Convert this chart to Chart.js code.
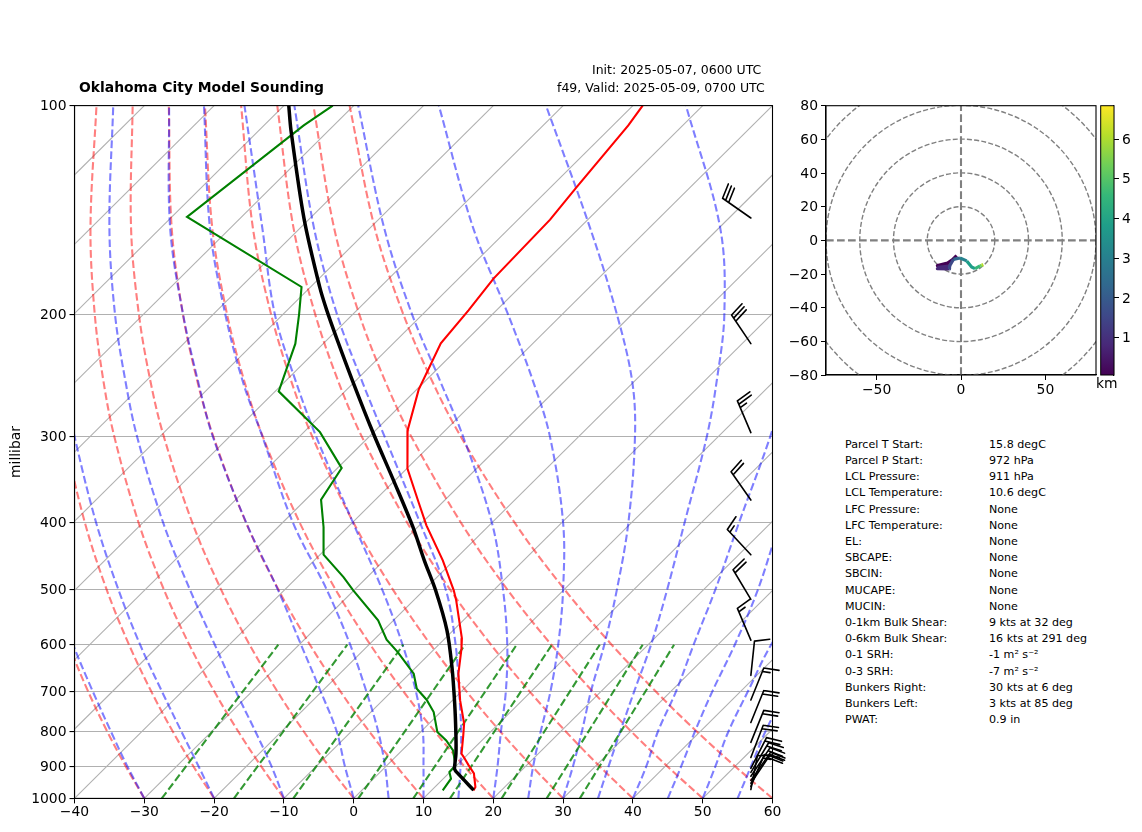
<!DOCTYPE html>
<html>
<head>
<meta charset="utf-8">
<script src="https://cdn.jsdelivr.net/npm/chart.js@4"></script>
<style>
  html, body { margin: 0; padding: 0; background: #fff; }
  body { position: relative; width: 1142px; height: 832px; overflow: hidden; font-family: "DejaVu Sans", sans-serif; color: #000; }
  canvas { position: absolute; }
  .txt { position: absolute; white-space: pre; line-height: 1; }
</style>
</head>
<body>
<canvas id="skewT" width="800" height="832" style="left:0;top:1px"></canvas>
<canvas id="hodo" width="320" height="310" style="left:780px;top:90px"></canvas>
<canvas id="cbar" width="42" height="310" style="left:1100px;top:90px"></canvas>
<div class="txt" style="left:79px;top:81px;font-size:13.9px;font-weight:bold">Oklahoma City Model Sounding</div>
<div class="txt" style="left:592px;top:64px;font-size:12.5px">Init: 2025-05-07, 0600 UTC</div>
<div class="txt" style="left:557px;top:82px;font-size:12.5px">f49, Valid: 2025-05-09, 0700 UTC</div>
<div class="txt" style="left:1096px;top:377px;font-size:13.9px">km</div>
<div id="stats"></div>
<script>
Chart.defaults.font.family = '"DejaVu Sans", sans-serif';
Chart.defaults.font.size = 13.9;
Chart.defaults.color = "#000";

// sounding profiles, temperature in degC at pressure in hPa
const tempP = [100, 106.8, 131.1, 146.1, 177.7, 197.5, 220.4, 257, 294.3, 334.2, 373.4, 403.5, 453.3, 500.8, 517.8, 587.5, 607.5, 660.7, 722, 779.5, 811, 862, 871.6, 896, 920, 963, 973.8];
const tempC = [-58.6, -57.8, -56.3, -55.4, -55, -54, -53.2, -49.7, -45.4, -39.9, -33.5, -29, -21.6, -15.7, -13.9, -7.6, -6.2, -3, 1.1, 5, 6.6, 9, 9.8, 11.7, 13.6, 15.8, 16];
const dewP = [100, 106.8, 144.8, 182.7, 200.1, 220.6, 258.5, 296, 333.6, 370.5, 405.7, 444.8, 479.3, 500.8, 553.4, 590, 615, 660.7, 694.4, 720.4, 750.6, 802, 825, 852.5, 896, 916, 936.7, 973.8];
const dewC = [-103, -104.3, -107.8, -81.3, -77.7, -74, -69.5, -57.7, -49.4, -47.8, -43.5, -39.5, -33.4, -30.1, -22.2, -18.2, -14.8, -9.4, -6.8, -3.8, -1, 2.4, 4.9, 7.3, 9.8, 9.9, 11.1, 11.6];
const parcelP = [100, 108.6, 145.6, 182.7, 197.5, 216.9, 250.6, 297.6, 347.5, 405.7, 453.3, 500.8, 572, 646, 730, 806.5, 862, 905, 911, 918, 973];
const parcelC = [-109.3, -105.4, -90.8, -78.7, -74.3, -68.8, -60.2, -49.8, -40.2, -30.7, -24.25, -18.3, -10.9, -4.9, 0.8, 5.3, 8.2, 10.1, 10.5, 11.1, 16];

// background lines, read as positions on the bottom axis
const pressureTicks = [100, 200, 300, 400, 500, 600, 700, 800, 900, 1000];
const isotherms = [-140, -130, -120, -110, -100, -90, -80, -70, -60, -50, -40, -30, -20, -10, 0, 10, 20, 30, 40, 50];
const curveLevels = [1000, 900, 800, 700, 600, 500, 400, 300, 250, 200, 150, 100];
const dryAdiabats = [
  [-30, -32.63, -35.33, -38.07, -40.83, -43.58, -46.2],
  [-20, -22.93, -25.94, -29.03, -32.19, -35.38, -38.51, -41.4, -42.58, -43.41, -43.53, -42.03],
  [-10, -13.22, -16.56, -20, -23.55, -27.18, -30.82, -34.31, -35.85, -37.1, -37.71, -36.85],
  [0, -3.52, -7.18, -10.97, -14.91, -18.98, -23.12, -27.22, -29.12, -30.78, -31.9, -31.67],
  [10, 6.18, 2.2, -1.94, -6.27, -10.77, -15.42, -20.13, -22.4, -24.47, -26.08, -26.49],
  [20, 15.89, 11.59, 7.09, 2.38, -2.57, -7.73, -13.05, -15.67, -18.15, -20.27, -21.31],
  [30, 25.59, 20.97, 16.12, 11.02, 5.64, -0.03, -5.96, -8.94, -11.84, -14.45, -16.13],
  [40, 35.29, 30.35, 25.16, 19.67, 13.84, 7.67, 1.13, -2.21, -5.52, -8.63, -10.95],
  [50, 45, 39.73, 34.18, 28.31, 22.04, 15.37, 8.22, 4.52, 0.79, -2.82, -5.77],
  [60, 54.7, 49.11, 43.22, 36.95, 30.25, 23.06, 15.31, 11.25, 7.1, 3, -0.59],
];
const moistAdiabats = [
  [-30, -32.4, -34.8, -37.4, -40.2, -43],
  [-20, -22.2, -24.7, -27.5, -30.6, -33.7, -36.9, -40, -41.5],
  [-10, -11.75, -14.1, -16.9, -19.9, -23.45, -27.3, -31.05, -32.7, -34.2, -35, -34.45],
  [0, -1.25, -2.45, -4.75, -7.55, -10.85, -15.4, -20.2, -22.3, -24.45, -26.3, -26.45],
  [5, 4.5, 3.5, 1.8, -0.5, -3.85, -8.7, -13.1, -15.9, -18.4, -20.6, -21.45],
  [10, 10, 9.9, 8.9, 7, 4.1, -0.1, -5.4, -8.3, -11.3, -13.1, -15.65],
  [15, 15.3, 15.4, 15.1, 14.6, 13.2, 9.5, 4.4, 1.2, -2.4, -5.7, -8.5],
  [20, 20.6, 21.1, 21.8, 22, 21.4, 19.8, 15.65, 12.4, 8.35, 4.35, 0.65],
  [25, 25.7, 26.8, 28.2, 29.3, 30, 30, 28.1, 25.7, 22.1, 17.1, 12.2],
  [30, 31.4, 32.7, 34, 35.9, 37.7, 39.35, 40.3, 39.9, 37.7, 33.85, 27.55],
  [35, 36.5, 38.2, 40.2, 42.6, 44.9, 47.4, 50.6, 52, 53.1, 52.5, 47.6],
  [40, 41.9, 43.6, 46.2, 48.7, 51.8, 55.2, 59.7, 62],
  [45, 46.9, 48.9, 51.4, 54.6, 57.9, 61.1, 66],
  [50, 51.8, 53.7, 56.5, 59.8, 65],
  [55, 56.9, 59, 62],
];
const mixingAt1000 = [-27.5, -17.15, -8.65, 0.66, 8.54, 13.8, 21.2, 27.65, 32.4];
const mixingAt600 = [-10.8, -0.92, 7.1, 15.95, 23.35, 28.4, 35.25, 41.4, 45.9];

// wind barbs
const barbP = [145.3, 220.6, 296.5, 371, 445, 516, 591, 664.5, 721, 777, 830, 873, 905, 917, 929, 942, 951, 961, 971];
const barbDir = [305, 326, 337, 325, 317, 329, 337, 6, 22, 22, 22, 21, 27, 31, 34, 35, 34, 23, 11];
const barbKt = [30, 30, 25, 20, 15, 20, 15, 10, 15, 20, 20, 20, 20, 20, 20, 20, 20, 15, 10];

// hodograph
const hodoU = [-2.6, -5, -8, -14, -8, -14, -8, -14, -7, -6.8, -6.5, -4.5, -0.6, 3.4, 6.3, 8.3, 11.3, 12.3, 13.2];
const hodoV = [-9, -11.5, -13.5, -15, -14.5, -16, -15.5, -16.8, -17, -15.8, -14.8, -11.3, -10.5, -12.2, -15.8, -16.8, -15.2, -14.8, -14.4];
const hodoKm = [0.1, 0.15, 0.2, 0.3, 0.4, 0.5, 0.6, 0.7, 1.3, 1.5, 1.8, 2.4, 3, 3.5, 4, 4.6, 5.2, 6, 6.8];
const hodoRings = [20, 40, 60, 80, 100];
const hodoYTicks = [-80, -60, -40, -20, 0, 20, 40, 60, 80];
const hodoXTicks = [-50, 0, 50];
const kmRange = [0.06, 6.84];
const kmTicks = [1, 2, 3, 4, 5, 6];
const viridis = ["#440154", "#482878", "#3e4989", "#31688e", "#26828e", "#1f9e89", "#35b779", "#6ece58", "#b5de2b", "#fde725"];

// parcel table
const statLabels = ["Parcel T Start:", "Parcel P Start:", "LCL Pressure:", "LCL Temperature:", "LFC Pressure:", "LFC Temperature:", "EL:", "SBCAPE:", "SBCIN:", "MUCAPE:", "MUCIN:", "0-1km Bulk Shear:", "0-6km Bulk Shear:", "0-1 SRH:", "0-3 SRH:", "Bunkers Right:", "Bunkers Left:", "PWAT:"];
const statValues = ["15.8 degC", "972 hPa", "911 hPa", "10.6 degC", "None", "None", "None", "None", "None", "None", "None", "9 kts at 32 deg", "16 kts at 291 deg", "-1 m² s⁻²", "-7 m² s⁻²", "30 kts at 6 deg", "3 kts at 85 deg", "0.9 in"];

const SKEW = 100;
const skewX = (t, p) => t + SKEW * Math.log10(1000 / p);
const minus = (v) => String(v).replace("-", "\u2212");
const profile = (ps, ts) => ps.map((p, i) => ({ x: skewX(ts[i], p), y: p }));
const curve = (xs) => xs.map((x, i) => ({ x: x, y: curveLevels[i] }));

function lineSet(data, color, width, extra) {
  return Object.assign({ data: data, borderColor: color, borderWidth: width, showLine: true, pointRadius: 0, tension: 0 }, extra);
}

const dash = [7.7, 3.3];
const datasets = [
  lineSet(profile(parcelP, parcelC), "#000", 3.5, { tension: 0.3 }),
  lineSet(profile(tempP, tempC), "#ff0000", 2.1),
  lineSet(profile(dewP, dewC), "#008000", 2.1),
];
mixingAt1000.forEach((x, i) => {
  datasets.push(lineSet([{ x: x, y: 1000 }, { x: mixingAt600[i], y: 600 }], "rgba(0,128,0,0.8)", 2.1, { borderDash: dash }));
});
moistAdiabats.forEach((xs) => {
  datasets.push(lineSet(curve(xs), "rgba(0,0,255,0.5)", 2.1, { borderDash: dash, tension: 0.35 }));
});
dryAdiabats.forEach((xs) => {
  datasets.push(lineSet(curve(xs), "rgba(255,0,0,0.5)", 2.1, { borderDash: dash, tension: 0.35 }));
});
isotherms.forEach((t) => {
  datasets.push(lineSet([{ x: t, y: 1000 }, { x: t + SKEW, y: 100 }], "#b0b0b0", 1.1));
});

function drawBarb(ctx, x, y, dir, speed) {
  const a = (dir * Math.PI) / 180;
  const dx = Math.sin(a), dy = -Math.cos(a);
  const px = Math.cos(a), py = Math.sin(a);
  const len = 34.5, h = 15, kick = 3.5, gap = 3.7;
  ctx.beginPath();
  ctx.moveTo(x, y);
  ctx.lineTo(x + dx * len, y + dy * len);
  let left = Math.round(speed / 5) * 5;
  let s = len;
  while (left > 0) {
    const k = left >= 10 ? 1 : 0.5;
    const bx = x + dx * s, by = y + dy * s;
    ctx.moveTo(bx, by);
    ctx.lineTo(bx + (px * h + dx * kick) * k, by + (py * h + dy * kick) * k);
    left -= k === 1 ? 10 : 5;
    s -= gap;
  }
  ctx.stroke();
}

const skewExtras = {
  id: "skewExtras",
  afterDatasetsDraw(chart) {
    const { ctx, chartArea, scales } = chart;
    ctx.save();
    ctx.strokeStyle = "#000";
    ctx.lineWidth = 1.6;
    ctx.lineCap = "round";
    const bx = chartArea.left + 0.969 * (chartArea.right - chartArea.left);
    barbP.forEach((p, i) => drawBarb(ctx, bx, scales.y.getPixelForValue(p), barbDir[i], barbKt[i]));
    ctx.lineWidth = 1.1;
    ctx.strokeRect(chartArea.left, chartArea.top, chartArea.right - chartArea.left, chartArea.bottom - chartArea.top);
    ctx.restore();
  },
};

new Chart(document.getElementById("skewT"), {
  type: "scatter",
  data: { datasets: datasets },
  options: {
    responsive: false,
    animation: false,
    devicePixelRatio: 1,
    layout: { padding: { left: 0, top: 104.6, right: 27.5, bottom: 0 } },
    plugins: { legend: { display: false }, tooltip: { enabled: false } },
    scales: {
      x: {
        type: "linear",
        min: -40,
        max: 60,
        afterFit(scale) { scale.height = 34.6; },
        grid: { drawOnChartArea: false, tickColor: "#000", tickLength: 5 },
        border: { color: "#000", width: 1.1 },
        ticks: { stepSize: 10, maxRotation: 0, padding: 1, callback: (v) => minus(v) },
      },
      y: {
        type: "logarithmic",
        min: 100,
        max: 1000,
        reverse: true,
        afterFit(scale) { scale.width = 74.5; },
        afterBuildTicks(scale) { scale.ticks = pressureTicks.map((v) => ({ value: v })); },
        grid: { color: "#b0b0b0", lineWidth: 1.1, tickColor: "#000", tickLength: 5 },
        border: { color: "#000", width: 1.1 },
        title: { display: true, text: "millibar", font: { size: 13.9 }, padding: { top: 8, bottom: 0 } },
        ticks: { autoSkip: false, padding: 3, labelOffset: 1, callback: (v) => String(v) },
      },
    },
  },
  plugins: [skewExtras],
});

function viridisAt(km) {
  const f = Math.max(0, Math.min(1, (km - kmRange[0]) / (kmRange[1] - kmRange[0]))) * (viridis.length - 1);
  return viridis[Math.round(f)];
}

const hodoRingPlugin = {
  id: "hodoRings",
  beforeDatasetsDraw(chart) {
    const { ctx, chartArea, scales } = chart;
    const cx = scales.x.getPixelForValue(0), cy = scales.y.getPixelForValue(0);
    ctx.save();
    ctx.beginPath();
    ctx.rect(chartArea.left, chartArea.top, chartArea.right - chartArea.left, chartArea.bottom - chartArea.top);
    ctx.clip();
    ctx.strokeStyle = "#808080";
    ctx.lineWidth = 1.4;
    ctx.setLineDash([5, 2.2]);
    hodoRings.forEach((r) => {
      ctx.beginPath();
      ctx.arc(cx, cy, scales.x.getPixelForValue(r) - cx, 0, Math.PI * 2);
      ctx.stroke();
    });
    ctx.restore();
  },
  afterDatasetsDraw(chart) {
    const { ctx, chartArea } = chart;
    ctx.save();
    ctx.strokeStyle = "#000";
    ctx.lineWidth = 1.1;
    ctx.strokeRect(chartArea.left, chartArea.top, chartArea.right - chartArea.left, chartArea.bottom - chartArea.top);
    ctx.restore();
  },
};

new Chart(document.getElementById("hodo"), {
  type: "scatter",
  data: {
    datasets: [
      {
        data: hodoU.map((u, i) => ({ x: u, y: hodoV[i] })),
        showLine: true,
        pointRadius: 0,
        borderWidth: 3.2,
        borderJoinStyle: "round",
        borderColor: "#26828e",
        segment: { borderColor: (c) => viridisAt(hodoKm[c.p0DataIndex]) },
      },
      lineSet([{ x: -80, y: 0 }, { x: 80, y: 0 }], "#808080", 2.1, { borderDash: dash }),
      lineSet([{ x: 0, y: -80 }, { x: 0, y: 80 }], "#808080", 2.1, { borderDash: dash }),
    ],
  },
  options: {
    responsive: false,
    animation: false,
    devicePixelRatio: 1,
    layout: { padding: { left: 0, top: 15.7, right: 4, bottom: 0 } },
    plugins: { legend: { display: false }, tooltip: { enabled: false } },
    scales: {
      x: {
        type: "linear",
        min: -80,
        max: 80,
        afterFit(scale) { scale.height = 25; },
        afterBuildTicks(scale) { scale.ticks = hodoXTicks.map((v) => ({ value: v })); },
        grid: { drawOnChartArea: false, tickColor: "#000", tickLength: 5 },
        border: { color: "#000", width: 1.1 },
        ticks: { maxRotation: 0, padding: 2, callback: (v) => minus(v) },
      },
      y: {
        type: "linear",
        min: -80,
        max: 80,
        afterFit(scale) { scale.width = 46; },
        afterBuildTicks(scale) { scale.ticks = hodoYTicks.map((v) => ({ value: v })); },
        grid: { drawOnChartArea: false, tickColor: "#000", tickLength: 5 },
        border: { color: "#000", width: 1.1 },
        ticks: { autoSkip: false, padding: 3, labelOffset: 1, callback: (v) => minus(v) },
      },
    },
  },
  plugins: [hodoRingPlugin],
});

new Chart(document.getElementById("cbar"), {
  type: "bar",
  data: {
    labels: ["km"],
    datasets: [
      {
        data: [kmRange],
        barPercentage: 1,
        categoryPercentage: 1,
        borderWidth: 0,
        backgroundColor(c) {
          const area = c.chart.chartArea;
          if (!area) return viridis[0];
          const g = c.chart.ctx.createLinearGradient(0, area.bottom, 0, area.top);
          viridis.forEach((col, i) => g.addColorStop(i / (viridis.length - 1), col));
          return g;
        },
      },
    ],
  },
  options: {
    responsive: false,
    animation: false,
    devicePixelRatio: 1,
    layout: { padding: { left: 0.7, top: 15.7, right: 0, bottom: 25 } },
    plugins: { legend: { display: false }, tooltip: { enabled: false } },
    scales: {
      x: { display: false },
      y: {
        position: "right",
        min: kmRange[0],
        max: kmRange[1],
        afterFit(scale) { scale.width = 28; },
        afterBuildTicks(scale) { scale.ticks = kmTicks.map((v) => ({ value: v })); },
        grid: { drawOnChartArea: false, tickColor: "#000", tickLength: 5 },
        border: { color: "#000", width: 1.1 },
        ticks: { padding: 3, labelOffset: 1 },
      },
    },
  },
  plugins: [{
    id: "barFrame",
    afterDatasetsDraw(chart) {
      const { ctx, chartArea } = chart;
      ctx.save();
      ctx.strokeStyle = "#000";
      ctx.lineWidth = 1;
      ctx.strokeRect(chartArea.left, chartArea.top, chartArea.right - chartArea.left, chartArea.bottom - chartArea.top);
      ctx.restore();
    },
  }],
});

const stats = document.getElementById("stats");
statLabels.forEach((label, i) => {
  const top = 438.7 + i * 16.2;
  stats.insertAdjacentHTML("beforeend",
    `<div class="txt" style="left:845px;top:${top}px;font-size:11.1px">${label}</div>` +
    `<div class="txt" style="left:989px;top:${top}px;font-size:11.1px">${statValues[i]}</div>`);
});
</script>
</body>
</html>
